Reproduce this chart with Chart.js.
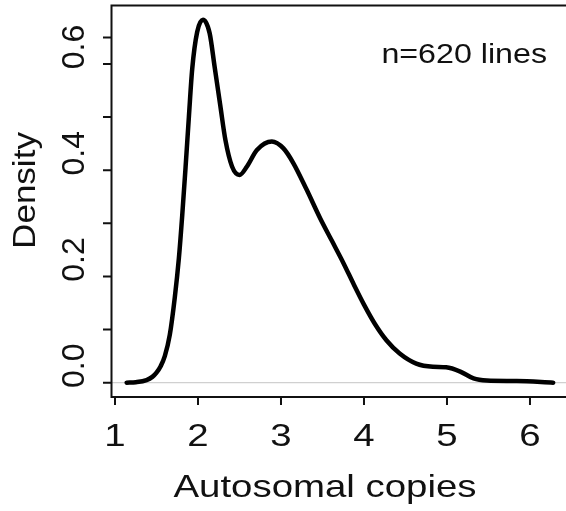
<!DOCTYPE html>
<html lang="en">
<head>
    <meta charset="UTF-8">
    <title>Autosomal copies density</title>
    <style>
        body {
            margin: 0;
            padding: 0;
            background: #fff;
            overflow: hidden;
        }
    </style>
</head>
<body>
    <canvas id="densityChart" width="566" height="511"></canvas>

    <script src="https://cdn.jsdelivr.net/npm/chart.js"></script>
    <script>
        // data
        const copies = [1.14, 1.25, 1.38, 1.45, 1.50, 1.55, 1.60, 1.66, 1.72, 1.77, 1.81, 1.85, 1.89, 1.93, 1.99,
            2.06, 2.14, 2.20, 2.27, 2.33, 2.41, 2.50, 2.59, 2.71, 2.89, 3.03, 3.15, 3.31, 3.47, 3.61,
            3.75, 3.88, 4.00, 4.13, 4.27, 4.43, 4.63, 4.83, 4.99, 5.16, 5.32, 5.48, 5.84, 6.28];
        const density = [0.0, 0.001, 0.005, 0.011, 0.019, 0.031, 0.05, 0.09, 0.16, 0.235, 0.315, 0.405, 0.50, 0.59, 0.66,
            0.683, 0.658, 0.595, 0.52, 0.457, 0.407, 0.391, 0.407, 0.438, 0.454, 0.441, 0.413, 0.363, 0.31, 0.268,
            0.226, 0.184, 0.147, 0.111, 0.080, 0.055, 0.036, 0.030, 0.029, 0.021, 0.008, 0.004, 0.003, 0.0];

        const xTicks = [1, 2, 3, 4, 5, 6];
        const yTicks = [0, 0.1, 0.2, 0.3, 0.4, 0.5, 0.6, 0.65];
        const yLabelValues = [0, 0.2, 0.4, 0.6];
        const yLabels = ['0.0', '0.2', '0.4', '0.6'];
        const note = 'n=620 lines';

        const FONT = '"Liberation Sans", Arial, Helvetica, sans-serif';

        // draw text, optionally rotated and stretched along its direction
        function drawText(ctx, s, x, y, size, sx, rot, align) {
            ctx.save();
            ctx.translate(x, y);
            if (rot) ctx.rotate(rot);
            ctx.scale(sx, 1);
            ctx.font = size + 'px ' + FONT;
            ctx.textAlign = align;
            ctx.textBaseline = 'alphabetic';
            ctx.fillStyle = '#111';
            ctx.fillText(s, 0, 0);
            ctx.restore();
        }

        // R-style axes, box and zero line
        const rAxes = {
            id: 'rAxes',
            beforeDatasetsDraw(chart) {
                const { ctx, chartArea, scales } = chart;
                const y0 = scales.y.getPixelForValue(0);
                ctx.save();
                ctx.strokeStyle = '#c4c4c4';
                ctx.lineWidth = 1;
                ctx.beginPath();
                ctx.moveTo(chartArea.left, y0);
                ctx.lineTo(chartArea.right, y0);
                ctx.stroke();
                ctx.restore();
            },
            afterDraw(chart) {
                const { ctx, chartArea, scales } = chart;
                const { left, right, top, bottom } = chartArea;
                ctx.save();
                ctx.strokeStyle = '#111';
                ctx.lineWidth = 2;
                ctx.beginPath();
                ctx.moveTo(right, top);
                ctx.lineTo(left, top);
                ctx.lineTo(left, bottom);
                ctx.lineTo(right, bottom);
                ctx.stroke();

                // y ticks
                ctx.beginPath();
                yTicks.forEach(v => {
                    const py = scales.y.getPixelForValue(v);
                    ctx.moveTo(left - 8.5, py);
                    ctx.lineTo(left, py);
                });
                // x ticks
                xTicks.forEach(v => {
                    const px = scales.x.getPixelForValue(v);
                    ctx.moveTo(px, bottom);
                    ctx.lineTo(px, bottom + 8);
                });
                ctx.stroke();
                ctx.restore();

                yLabelValues.forEach((v, i) => {
                    const py = scales.y.getPixelForValue(v);
                    drawText(ctx, yLabels[i], 84, py - 17, 32, 1, -Math.PI / 2, 'center');
                });
                xTicks.forEach(v => {
                    const px = scales.x.getPixelForValue(v);
                    drawText(ctx, String(v), px, 446, 32, 1.2, 0, 'center');
                });

                drawText(ctx, 'Autosomal copies', 325, 497, 32, 1.2, 0, 'center');
                drawText(ctx, 'Density', 35, 190.5, 31, 1.13, -Math.PI / 2, 'center');
                drawText(ctx, note, 547, 63, 28, 1.15, 0, 'right');
            }
        };

        const ctx = document.getElementById('densityChart').getContext('2d');
        const densityChart = new Chart(ctx, {
            type: 'line',
            data: {
                labels: copies,
                datasets: [{
                    label: 'Density',
                    data: copies.map((c, i) => ({ x: c, y: density[i] })),
                    borderColor: '#000',
                    borderWidth: 4.5,
                    borderCapStyle: 'round',
                    borderJoinStyle: 'round',
                    pointRadius: 0,
                    fill: false,
                    cubicInterpolationMode: 'monotone'
                }]
            },
            options: {
                responsive: false,
                animation: false,
                layout: {
                    padding: { left: 0, right: 0, top: 5.5, bottom: 0 }
                },
                plugins: {
                    legend: { display: false },
                    tooltip: { enabled: false }
                },
                scales: {
                    x: {
                        type: 'linear',
                        min: 0.9578,
                        max: 6.434,
                        grid: { display: false },
                        border: { display: false },
                        ticks: { display: false },
                        afterFit(scale) { scale.height = 114; }
                    },
                    y: {
                        min: -0.0269,
                        max: 0.710,
                        grid: { display: false },
                        border: { display: false },
                        ticks: { display: false },
                        afterFit(scale) { scale.width = 111.5; }
                    }
                }
            },
            plugins: [rAxes]
        });
    </script>
</body>
</html>
